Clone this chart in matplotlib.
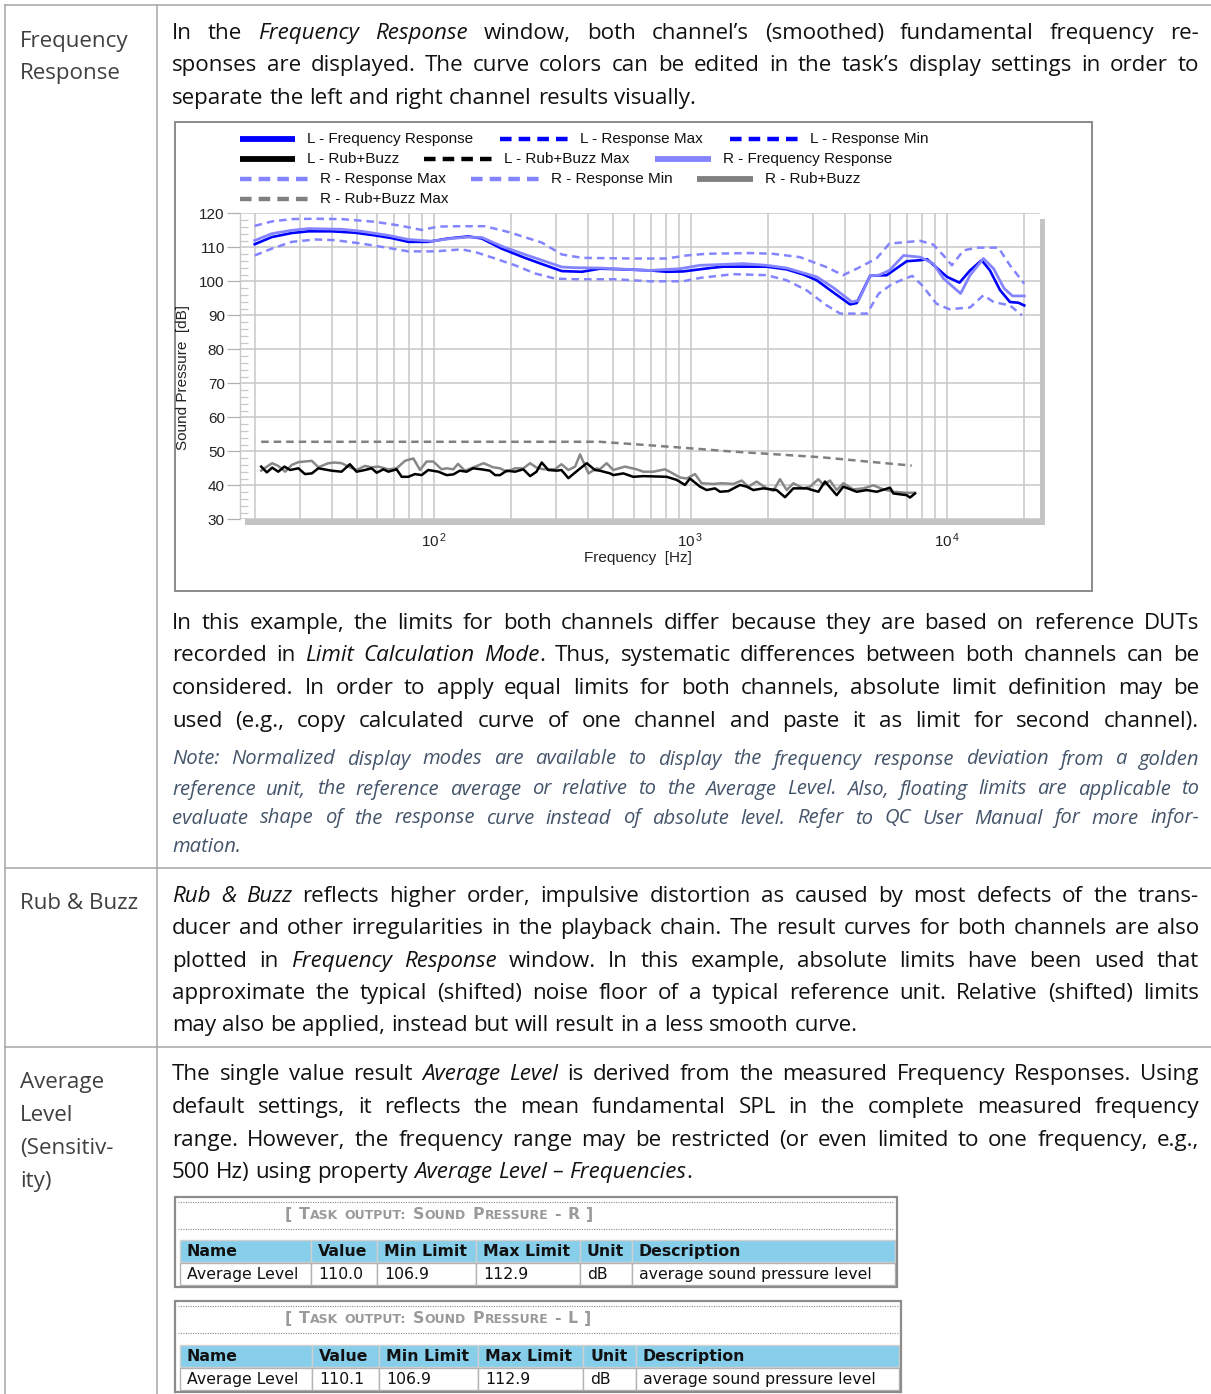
import numpy as np
import matplotlib
matplotlib.use('Agg')
import matplotlib.pyplot as plt
from matplotlib.patches import Rectangle
from matplotlib.ticker import FixedLocator, LogLocator, MultipleLocator, NullFormatter

plt.rcParams['mathtext.default'] = 'regular'

# ---------------------------------------------------------------- data
# Frequency response, left channel (Hz, dB)
f_L_fr = [20, 23.3, 27.9, 32.4, 39.9, 49.2, 58.9, 68.4, 79.4, 95, 113.6, 136, 153.5, 183.7, 226, 263, 315, 377,
          443, 508, 695, 807, 937, 1191, 1341, 1981, 2371, 2754, 3106, 3609, 4188, 4446, 5014, 5820, 6966, 7871,
          8358, 10000, 11190, 12300, 13650, 14700, 16100, 17600, 18980, 20000]
db_L_fr = [110.9, 113.0, 114.2, 114.7, 114.7, 114.3, 113.5, 112.7, 111.6, 111.6, 112.6, 113.2, 112.6, 109.6, 106.9,
           105.1, 103.0, 102.8, 103.7, 103.6, 103.2, 102.8, 102.9, 103.9, 104.3, 104.3, 103.5, 102.0, 100.3, 96.7,
           93.2, 93.6, 101.6, 101.8, 105.9, 106.2, 106.5, 101.3, 99.6, 103.2, 106.2, 103.2, 97.4, 93.9, 93.7, 92.9]

# Frequency response, right channel
f_R_fr = [20, 23.3, 27.9, 32.4, 43.6, 52.2, 66.4, 79.4, 97.9, 117, 136, 153.5, 183.7, 232, 263, 315, 355, 443, 695,
          910, 1089, 1607, 1981, 2371, 3106, 3609, 4264, 4525, 5014, 5420, 5963, 6770, 7871, 8840, 9690, 11300,
          12300, 13870, 15200, 16700, 18000, 20000]
db_R_fr = [112.0, 114.0, 115.0, 115.5, 115.3, 114.7, 113.5, 112.3, 111.8, 112.6, 113.0, 112.9, 110.3, 107.6, 106.2,
           104.2, 104.0, 103.9, 103.2, 103.7, 104.7, 105.2, 104.7, 103.9, 101.3, 98.1, 93.9, 94.4, 101.6, 101.8,
           103.2, 107.6, 107.1, 105.2, 100.8, 96.4, 101.8, 106.7, 103.7, 97.9, 95.7, 95.7]

# Response limits (upper / lower)
f_max = [20, 23.3, 27.9, 34.4, 43.6, 58.9, 74.8, 89.5, 104, 128, 158, 195, 263, 315, 377, 599, 807, 966, 1155, 1706,
         2092, 2673, 3382, 3933, 4446, 5310, 5963, 7871, 8840, 9690, 10450, 11600, 13060, 15860, 17600, 20000]
db_max = [116.3, 117.6, 118.3, 118.4, 118.3, 117.5, 116.3, 115.1, 116.1, 116.2, 116.2, 114.5, 111.4, 107.9, 106.9,
          106.7, 106.7, 107.6, 108.1, 108.3, 108.1, 107.1, 104.2, 101.8, 103.7, 106.7, 111.1, 111.9, 110.8, 107.6,
          104.7, 109.1, 109.9, 109.9, 104.7, 99.3]
f_min = [20, 23.3, 27.9, 34.4, 41.1, 52.2, 66.4, 79.4, 101, 128, 145, 173, 207, 248, 296, 355, 508, 695, 937, 1089,
         1469, 1981, 2371, 2830, 3382, 3835, 4876, 5420, 6135, 7320, 8000, 9100, 10200, 12300, 13870, 15200, 17600,
         19600]
db_min = [107.6, 109.6, 111.6, 112.3, 112.1, 111.1, 109.8, 108.8, 108.8, 109.4, 108.6, 106.7, 104.7, 102.3, 100.8,
          100.6, 100.6, 100.0, 100.0, 101.0, 102.1, 101.8, 100.3, 97.4, 93.0, 90.5, 90.5, 96.4, 99.3, 101.6, 98.8,
          93.4, 91.8, 92.3, 95.9, 93.9, 92.9, 90.0]

# Rub+Buzz, left channel
f_L_rb = [21.2, 22.3, 23.4, 24.7, 26.1, 27.5, 29.6, 31.4, 33.4, 35.4, 39.9, 43.6, 47.0, 49.9, 53.8, 57.1, 59.8, 63.5,
          66.4, 71.5, 74.8, 79.4, 84.3, 89.5, 95.0, 104, 112, 119, 126, 134, 142, 153, 165, 173, 181, 192, 207, 223,
          237, 251, 263, 279, 301, 314, 334, 365, 394, 424, 443, 486, 500, 547, 598, 655, 807, 883, 952, 995, 1089,
          1156, 1246, 1303, 1405, 1560, 1656, 1758, 1923, 2167, 2336, 2518, 2838, 3151, 3345, 3715, 3944, 4446,
          4863, 5319, 5995, 6178, 6966, 7176, 7504]
db_L_rb = [45.5, 43.8, 45.2, 44.0, 45.5, 44.5, 45.0, 43.3, 43.5, 45.0, 44.3, 44.0, 46.2, 44.0, 44.5, 45.0, 43.7, 44.7,
           44.0, 44.7, 42.5, 42.5, 43.3, 43.0, 44.5, 44.0, 43.0, 43.2, 44.3, 44.0, 45.0, 44.7, 44.3, 43.0, 43.0,
           44.3, 44.0, 44.7, 42.7, 44.0, 46.7, 44.5, 44.3, 44.5, 42.1, 44.5, 46.5, 44.5, 44.3, 43.5, 43.0, 43.5,
           42.5, 42.7, 42.5, 41.6, 40.1, 42.0, 39.6, 38.6, 39.1, 38.1, 38.3, 40.1, 39.6, 38.6, 39.1, 38.6, 36.5,
           39.1, 39.1, 38.1, 41.1, 37.1, 39.6, 38.1, 38.6, 38.1, 39.3, 37.6, 37.1, 36.4, 37.6]

# Rub+Buzz, right channel
f_R_rb = [21.2, 22.3, 23.4, 24.7, 26.3, 27.9, 29.6, 31.4, 33.4, 35.4, 38.7, 41.1, 43.6, 47.0, 49.9, 53.8, 57.1, 60.7,
          66.4, 71.5, 77.1, 83.1, 88.2, 93.6, 99.4, 107, 112, 119, 124, 132, 145, 156, 170, 181, 192, 207, 223, 237,
          251, 267, 296, 314, 334, 355, 371, 400, 431, 443, 471, 500, 555, 617, 655, 716, 795, 844, 910, 966, 1041,
          1105, 1227, 1323, 1469, 1583, 1681, 1811, 1982, 2104, 2234, 2371, 2518, 2754, 2924, 3151, 3295, 3499,
          3715, 3944, 4314, 4720, 5162, 5646, 6178, 6966, 7504]
db_R_rb = [44.3, 45.5, 46.5, 45.7, 44.0, 46.0, 46.8, 47.0, 47.2, 45.3, 46.5, 46.7, 46.5, 45.3, 44.5, 45.7, 45.3, 45.5,
           44.7, 45.0, 47.2, 47.9, 44.5, 47.0, 47.0, 44.7, 45.0, 44.7, 46.3, 44.3, 45.5, 46.5, 45.3, 45.0, 44.0,
           45.0, 45.0, 46.5, 45.2, 44.7, 44.7, 46.2, 44.5, 45.5, 49.1, 43.5, 45.0, 44.7, 46.5, 44.5, 45.5, 44.7,
           44.0, 44.0, 44.7, 43.7, 42.3, 42.0, 43.3, 40.6, 40.4, 40.6, 40.4, 41.4, 39.6, 41.1, 39.1, 38.4, 41.8,
           38.6, 40.6, 39.1, 39.6, 41.8, 40.1, 41.4, 38.6, 40.6, 38.8, 39.1, 40.0, 38.8, 38.1, 37.8, 37.8]

# Rub+Buzz max limit
f_rb_max = [21.2, 100, 443, 655, 995, 1469, 2167, 3295, 4863, 7283]
db_rb_max = [52.8, 52.8, 52.8, 51.9, 50.9, 49.9, 49.1, 48.2, 47.0, 45.8]

legend_labels = ['L - Frequency Response', 'L - Response Max', 'L - Response Min',
                 'L - Rub+Buzz', 'L - Rub+Buzz Max', 'R - Frequency Response',
                 'R - Response Max', 'R - Response Min', 'R - Rub+Buzz', 'R - Rub+Buzz Max']
y_ticks = [30, 40, 50, 60, 70, 80, 90, 100, 110, 120]
x_ticks = [100, 1000, 10000]
x_tick_labels = [r'$10^{\,2}$', r'$10^{\,3}$', r'$10^{\,4}$']

# Tables
tbl_columns = ['Name', 'Value', 'Min Limit', 'Max Limit', 'Unit', 'Description']
tbl_R_values = ['Average Level', '110.0', '106.9', '112.9', 'dB', 'average sound pressure level']
tbl_L_values = ['Average Level', '110.1', '106.9', '112.9', 'dB', 'average sound pressure level']
tbl_R_title = '[ Task output: Sound Pressure - R ]'
tbl_L_title = '[ Task output: Sound Pressure - L ]'

# Text
left_labels = [['Frequency', 'Response'], ['Rub & Buzz'], ['Average', 'Level', '(Sensitiv-', 'ity)']]
para1 = ["In the *Frequency Response* window, both channel’s (smoothed) fundamental frequency re-",
         "sponses are displayed. The curve colors can be edited in the task’s display settings in order to",
         "separate the left and right channel results visually."]
para2 = ["In this example, the limits for both channels differ because they are based on reference DUTs",
         "recorded in *Limit Calculation Mode*. Thus, systematic differences between both channels can be",
         "considered. In order to apply equal limits for both channels, absolute limit definition may be",
         "used (e.g., copy calculated curve of one channel and paste it as limit for second channel)."]
note = ["Note: Normalized display modes are available to display the frequency response deviation from a golden",
        "reference unit, the reference average or relative to the Average Level. Also, floating limits are applicable to",
        "evaluate shape of the response curve instead of absolute level. Refer to QC User Manual for more infor-",
        "mation."]
para3 = ["*Rub & Buzz* reflects higher order, impulsive distortion as caused by most defects of the trans-",
         "ducer and other irregularities in the playback chain. The result curves for both channels are also",
         "plotted in *Frequency Response* window. In this example, absolute limits have been used that",
         "approximate the typical (shifted) noise floor of a typical reference unit. Relative (shifted) limits",
         "may also be applied, instead but will result in a less smooth curve."]
para4 = ["The single value result *Average Level* is derived from the measured Frequency Responses. Using",
         "default settings, it reflects the mean fundamental SPL in the complete measured frequency",
         "range. However, the frequency range may be restricted (or even limited to one frequency, e.g.,",
         "500 Hz) using property *Average Level – Frequencies*."]

# ---------------------------------------------------------------- figure
W, H = 1211, 1394
fig = plt.figure(figsize=(W / 100, H / 100), dpi=100)
fig.patch.set_facecolor('white')
bg = fig.add_axes([0, 0, 1, 1])
bg.set_xlim(0, W)
bg.set_ylim(H, 0)
bg.axis('off')
renderer = fig.canvas.get_renderer()

BODY = ['Open Sans', 'DejaVu Sans']
CHART = ['Liberation Sans', 'DejaVu Sans']
TBL = ['DejaVu Sans']
BODY_SIZE = 16.1
NOTE_SIZE = 14.6
TBL_SIZE = 11.3

_cache = {}


def tw(s, size, family, style='normal', weight='normal'):
    key = (s, size, tuple(family), style, weight)
    if key not in _cache:
        t = bg.text(0, 0, s, fontsize=size, family=family, style=style, weight=weight)
        _cache[key] = t.get_window_extent(renderer=renderer).width
        t.remove()
    return _cache[key]


def space_w(size, family, style='normal', weight='normal'):
    return tw('n n', size, family, style, weight) - tw('nn', size, family, style, weight)


def parse(line):
    words = []
    ital = False
    for w in line.split(' '):
        pieces, buf = [], ''
        for ch in w:
            if ch == '*':
                if buf:
                    pieces.append((buf, ital))
                    buf = ''
                ital = not ital
            else:
                buf += ch
        if buf:
            pieces.append((buf, ital))
        words.append(pieces)
    return words


def draw_line(line, x0, x1, yb, size, color, justify, base_italic=False):
    words = parse(line)

    def measure(sz):
        ws = []
        for pieces in words:
            ws.append([tw(p, sz, BODY, 'italic' if (it != base_italic) else 'normal') for p, it in pieces])
        return ws

    widths = measure(size)
    total = sum(sum(w) for w in widths)
    sp = space_w(size, BODY, 'italic' if base_italic else 'normal')
    # shrink slightly if the natural line would not fit
    while justify and total + 0.7 * sp * (len(words) - 1) > (x1 - x0) and size > 8:
        size -= 0.2
        widths = measure(size)
        total = sum(sum(w) for w in widths)
        sp = space_w(size, BODY, 'italic' if base_italic else 'normal')
    if justify and len(words) > 1:
        gap = (x1 - x0 - total) / (len(words) - 1)
    else:
        gap = sp
    x = x0
    for pieces, pw in zip(words, widths):
        for (p, it), w in zip(pieces, pw):
            bg.text(x, yb, p, fontsize=size, family=BODY, color=color, ha='left', va='baseline',
                    style='italic' if (it != base_italic) else 'normal')
            x += w
        x += gap


def draw_par(lines, centers, size, color, justify_last=False, base_italic=False, dy=7):
    for i, (ln, yc) in enumerate(zip(lines, centers)):
        last = i == len(lines) - 1
        draw_line(ln, 172, 1199, yc + dy, size, color, (not last) or justify_last, base_italic)


# ---------------------------------------------------------------- page table lines
GRIDC = '#a6a6a6'
bg.plot([5, W], [5, 5], color=GRIDC, lw=1.1)
bg.plot([5, 5], [5, H], color=GRIDC, lw=1.1)
bg.plot([157, 157], [5, H], color=GRIDC, lw=1.1)
bg.plot([5, W], [868, 868], color=GRIDC, lw=1.1)
bg.plot([5, W], [1047, 1047], color=GRIDC, lw=1.1)

# left column labels
left_y = [[40, 72], [902], [1081, 1114, 1147, 1180]]
for labs, ys in zip(left_labels, left_y):
    for lab, yy in zip(labs, ys):
        bg.text(20, yy + 7, lab, fontsize=BODY_SIZE, family=BODY, color='#404040', ha='left', va='baseline')

# paragraphs
TXT = '#111111'
draw_par(para1, [32, 64, 97], BODY_SIZE, TXT)
draw_par(para2, [622, 654, 687, 720], BODY_SIZE, TXT, justify_last=True)
draw_par(note, [758, 788, 817, 846], NOTE_SIZE, '#44546a', base_italic=True, dy=6.5)
draw_par(para3, [895, 927, 960, 992, 1024], BODY_SIZE, TXT)
draw_par(para4, [1073, 1106, 1139, 1171], BODY_SIZE, TXT)

# ---------------------------------------------------------------- chart
bg.add_patch(Rectangle((175, 122), 1092 - 175, 591 - 122, fill=False, ec='#8a8a8a', lw=1.4))


def fx(px):
    return 10 ** (2 + (px - 434) / 256.5)


def ax_rect(x0, y0, x1, y1):
    return [x0 / W, 1 - y1 / H, (x1 - x0) / W, (y1 - y0) / H]


# shadow of the plot frame
bg.add_patch(Rectangle((245, 519.3), 800, 6, color='#c4c4c4', lw=0))
bg.add_patch(Rectangle((1040, 219), 5, 306, color='#c4c4c4', lw=0))

ax = fig.add_axes(ax_rect(240, 213.3, 1040, 519.3))
ax.set_xscale('log')
ax.set_xlim(fx(240), fx(1040))
ax.set_ylim(30, 120)
ax.set_facecolor('white')
ax.set_axisbelow(True)
for s in ['top', 'right', 'bottom']:
    ax.spines[s].set_visible(False)
ax.spines['left'].set_color('#c8c8c8')
ax.spines['left'].set_linewidth(1.0)

ax.yaxis.set_major_locator(FixedLocator(y_ticks))
ax.yaxis.set_minor_locator(MultipleLocator(2))
ax.xaxis.set_major_locator(FixedLocator(x_ticks))
ax.xaxis.set_minor_locator(LogLocator(base=10, subs=np.arange(2, 10), numticks=30))
ax.xaxis.set_minor_formatter(NullFormatter())
ax.set_xticklabels(x_tick_labels)
ax.grid(axis='y', which='major', color='#c8c8c8', lw=1.1)
ax.grid(axis='x', which='both', color='#c8c8c8', lw=1.1)
ax.tick_params(axis='x', which='both', length=0, pad=9, labelsize=11, labelcolor='#222222')
ax.tick_params(axis='y', which='major', direction='out', length=9.4, width=0.9, color='#b0b0b0',
               pad=1.5, labelsize=11, labelcolor='#222222')
ax.tick_params(axis='y', which='minor', direction='in', length=5.8, width=0.9, color='#c8c8c8')
for lab in ax.get_xticklabels() + ax.get_yticklabels():
    lab.set_family(CHART)

LB = '#0000ff'
RB = '#8484ff'
ax.plot(f_max, db_max, color=RB, lw=1.8, dashes=(3, 2))
ax.plot(f_min, db_min, color=RB, lw=1.8, dashes=(3, 2))
ax.plot(f_L_fr, db_L_fr, color=LB, lw=1.9)
ax.plot(f_R_fr, db_R_fr, color=RB, lw=2.0)
ax.plot(f_rb_max, db_rb_max, color='#808080', lw=1.8, dashes=(3, 2))
ax.plot(f_R_rb, db_R_rb, color='#888888', lw=1.8)
ax.plot(f_L_rb, db_L_rb, color='#000000', lw=1.8)

bg.text(990, 222, 'KLIPPEL', fontsize=11, family=CHART, color='#34479a', ha='center', va='center')
bg.text(183, 377, 'Sound Pressure  [dB]', fontsize=11, family=CHART, color='#222222', rotation=90,
        ha='center', va='center')
bg.text(638, 558, 'Frequency  [Hz]', fontsize=11, family=CHART, color='#222222', ha='center', va='center')

# legend (flow layout)
leg_styles = [(LB, 'solid'), (LB, 'dash'), (LB, 'dash'),
              ('#000000', 'solid'), ('#000000', 'dash'), (RB, 'solid'),
              (RB, 'dash'), (RB, 'dash'), ('#808080', 'solid'), ('#808080', 'dash')]
leg_pos = [(240, 295, 307, 139), (500, 570, 580, 139), (730, 800, 810, 139),
           (240, 295, 307, 159), (424, 493, 504, 159), (655, 711, 723, 159),
           (240, 310, 320, 179), (471, 540, 551, 179), (697, 753, 765, 179),
           (240, 310, 320, 199)]
for lab, (col, st), (hx0, hx1, tx, yy) in zip(legend_labels, leg_styles, leg_pos):
    if st == 'solid':
        bg.plot([hx0, hx1], [yy, yy], color=col, lw=4.2, solid_capstyle='butt')
    else:
        bg.plot([hx0, hx1], [yy, yy], color=col, lw=3.2, dashes=(2.6, 1.6), dash_capstyle='butt')
    bg.text(tx, yy, lab, fontsize=11, family=CHART, color='#111111', ha='left', va='center')


# ---------------------------------------------------------------- tables
def draw_title(title, x, yc):
    runs = []
    cur, cur_small = '', None
    for ch in title:
        if ch == ' ':
            if cur:
                runs.append((cur, cur_small))
            runs.append((' ', False))
            cur, cur_small = '', None
            continue
        if ch.isalpha():
            sm = ch.islower()
        else:
            sm = cur_small if cur else False
        if cur and sm != cur_small:
            runs.append((cur, cur_small))
            cur = ''
        cur += ch.upper() if sm else ch
        cur_small = sm
    if cur:
        runs.append((cur, cur_small))
    big, small = 11.3, 9.0
    for txt, sm in runs:
        if txt == ' ':
            x += space_w(big, TBL, weight='bold')
            continue
        sz = small if sm else big
        bg.text(x, yc, txt, fontsize=sz, family=TBL, weight='bold', color='#9a9a9a', ha='left', va='baseline')
        x += tw(txt, sz, TBL, weight='bold') + 0.8


def draw_table(box, cols, title, title_x, title_base, dots, hdr, row, values):
    x0, y0, x1, y1 = box
    for yy in dots:
        bg.plot([x0 + 3, x1 - 3], [yy, yy], color='#8a8a8a', lw=0.8, ls=(0, (1, 1.2)))
    draw_title(title, title_x, title_base)
    for i, name in enumerate(tbl_columns):
        cx0, cx1 = cols[i], cols[i + 1]
        bg.add_patch(Rectangle((cx0, hdr[0]), cx1 - cx0, hdr[1] - hdr[0], fc='#87ceeb', ec='#d0d0d0', lw=1))
        bg.add_patch(Rectangle((cx0, row[0]), cx1 - cx0, row[1] - row[0], fc='white', ec='#b4b4b4', lw=1))
        bg.text(cx0 + 7, (hdr[0] + hdr[1]) / 2 + 0.5, name, fontsize=TBL_SIZE, family=TBL, weight='bold',
                color='#111111', ha='left', va='center')
        bg.text(cx0 + 7, (row[0] + row[1]) / 2 + 0.5, values[i], fontsize=TBL_SIZE, family=TBL,
                color='#111111', ha='left', va='center')
    bg.add_patch(Rectangle((x0, y0), x1 - x0, y1 - y0, fill=False, ec='#8c8c8c', lw=1.6))


draw_table((175, 1197, 897, 1287), [180, 311, 377, 476, 580, 632, 895], tbl_R_title, 285, 1219,
           [1201.5, 1229], (1240, 1262), (1263, 1285), tbl_R_values)
draw_table((175, 1301, 901, 1392), [180, 312, 379, 478, 583, 636, 899], tbl_L_title, 285, 1323,
           [1305.5, 1333], (1345, 1367), (1368, 1390), tbl_L_values)

fig.savefig('out.png', dpi=100, facecolor='white')
